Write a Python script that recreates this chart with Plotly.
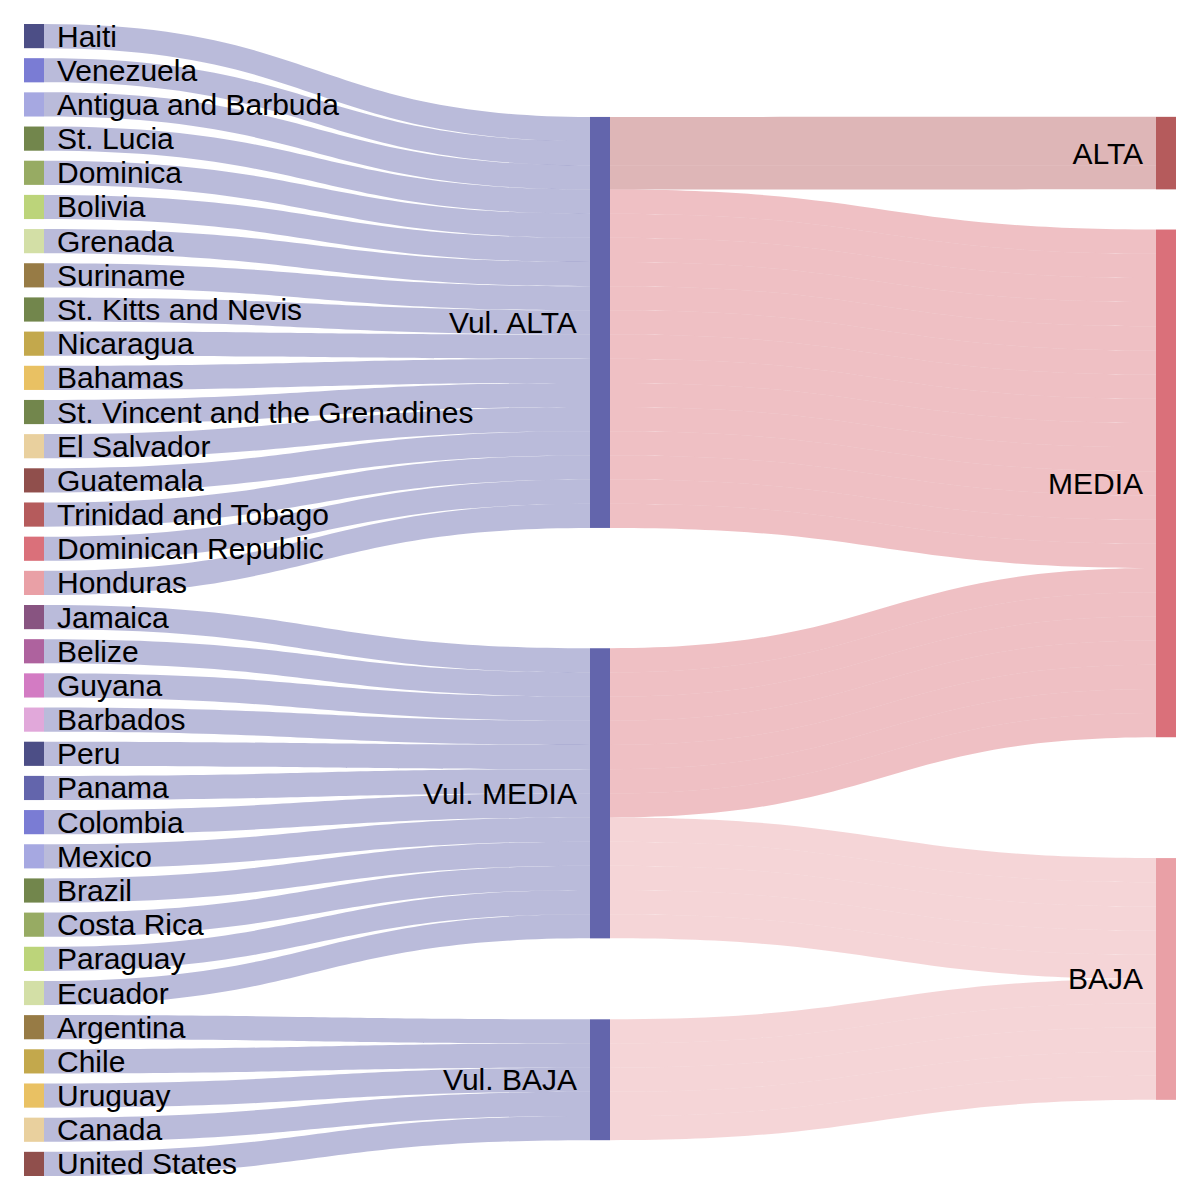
import plotly.graph_objects as go

# ---------------- data ----------------
countries = ["Haiti", "Venezuela", "Antigua and Barbuda", "St. Lucia", "Dominica", "Bolivia",
             "Grenada", "Suriname", "St. Kitts and Nevis", "Nicaragua", "Bahamas",
             "St. Vincent and the Grenadines", "El Salvador", "Guatemala", "Trinidad and Tobago",
             "Dominican Republic", "Honduras",
             "Jamaica", "Belize", "Guyana", "Barbados", "Peru", "Panama", "Colombia", "Mexico",
             "Brazil", "Costa Rica", "Paraguay", "Ecuador",
             "Argentina", "Chile", "Uruguay", "Canada", "United States"]
vulnerability = (["Vul. ALTA"] * 17) + (["Vul. MEDIA"] * 12) + (["Vul. BAJA"] * 5)
risk = (["ALTA"] * 3 + ["MEDIA"] * 14 +
        ["MEDIA"] * 7 + ["BAJA"] * 5 +
        ["BAJA"] * 5)
flow_value = [1] * len(countries)
vul_nodes = ["Vul. ALTA", "Vul. MEDIA", "Vul. BAJA"]
risk_nodes = ["ALTA", "MEDIA", "BAJA"]

# ---------------- styles ----------------
country_colors = ["#393b79", "#6b6ecf", "#9c9ede", "#637939", "#8ca252", "#b5cf6b",
                  "#cedb9c", "#8c6d31", "#637939", "#bd9e39", "#e7ba52",
                  "#637939", "#e7cb94", "#843c39", "#ad494a", "#d6616b", "#e7969c",
                  "#7b4173", "#a55194", "#ce6dbd", "#de9ed6", "#393b79", "#5254a3",
                  "#6b6ecf", "#9c9ede", "#637939", "#8ca252", "#b5cf6b", "#cedb9c",
                  "#8c6d31", "#bd9e39", "#e7ba52", "#e7cb94", "#843c39"]
vul_color = "#5254a3"
risk_colors = ["#ad494a", "#d6616b", "#e7969c"]

FIG_W, FIG_H = 1200, 1200
MARGIN = dict(l=16, r=32, t=16, b=32)
PAD, THICK = 10, 20
LABEL_GAP = 11
FONT = dict(family="Liberation Sans, Arial", size=30, color="black")


def rgba(h, a):
    h = h.lstrip("#")
    return f"rgba({int(h[0:2],16)},{int(h[2:4],16)},{int(h[4:6],16)},{a})"


labels = countries + vul_nodes + risk_nodes
idx = {l: i for i, l in enumerate(labels)}
node_colors = ([rgba(c, 0.9) for c in country_colors] + [rgba(vul_color, 0.9)] * 3 +
               [rgba(c, 0.9) for c in risk_colors])

links = []  # (source, target, value)
lcol = []
for c, v, w in zip(countries, vulnerability, flow_value):
    links.append((idx[c], idx[v], w)); lcol.append(rgba(vul_color, 0.4))
for v, r, w in zip(vulnerability, risk, flow_value):
    links.append((idx[v], idx[r], w)); lcol.append(rgba(risk_colors[risk_nodes.index(r)], 0.4))

# ---------------- node layout (link-centred relaxation) ----------------
W = FIG_W - MARGIN["l"] - MARGIN["r"]
H = FIG_H - MARGIN["t"] - MARGIN["b"]
columns = [[idx[c] for c in countries], [idx[v] for v in vul_nodes], [idx[r] for r in risk_nodes]]
n_nodes = len(labels)
outs = {n: [i for i, l in enumerate(links) if l[0] == n] for n in range(n_nodes)}
ins = {n: [i for i, l in enumerate(links) if l[1] == n] for n in range(n_nodes)}
value = {n: max(sum(links[i][2] for i in outs[n]), sum(links[i][2] for i in ins[n]))
         for n in range(n_nodes)}
ky = min((H - (len(c) - 1) * PAD) / sum(value[n] for n in c) for c in columns)
hgt = {n: value[n] * ky for n in range(n_nodes)}
y0 = {}
for col in columns:
    y = 0
    for n in col:
        y0[n] = y
        y += hgt[n] + PAD


def link_positions():
    sy, ty = {}, {}
    for n in range(n_nodes):
        y = y0[n]
        for i in sorted(outs[n], key=lambda i: (y0[links[i][1]], i)):
            w = links[i][2] * ky
            sy[i] = y + w / 2
            y += w
        y = y0[n]
        for i in sorted(ins[n], key=lambda i: (y0[links[i][0]], i)):
            w = links[i][2] * ky
            ty[i] = y + w / 2
            y += w
    return sy, ty


def resolve(col):
    order = sorted(col, key=lambda n: y0[n])
    y = 0
    for n in order:
        d = y - y0[n]
        if d > 0:
            y0[n] += d
        y = y0[n] + hgt[n] + PAD
    d = y - PAD - H
    if d > 0:
        y0[order[-1]] -= d
        y = y0[order[-1]]
        for n in reversed(order[:-1]):
            d = y0[n] + hgt[n] + PAD - y
            if d > 0:
                y0[n] -= d
            y = y0[n]


alpha = 1.0
for _ in range(50):
    alpha *= 0.99
    for col in reversed(columns):
        sy, ty = link_positions()
        for n in col:
            if outs[n]:
                tot = sum(links[i][2] for i in outs[n])
                tc = sum(ty[i] * links[i][2] for i in outs[n]) / tot
                y0[n] += (tc - (y0[n] + hgt[n] / 2)) * alpha
    for col in columns:
        resolve(col)
    for col in columns:
        sy, ty = link_positions()
        for n in col:
            if ins[n]:
                tot = sum(links[i][2] for i in ins[n])
                sc = sum(sy[i] * links[i][2] for i in ins[n]) / tot
                y0[n] += (sc - (y0[n] + hgt[n] / 2)) * alpha
    for col in columns:
        resolve(col)

node_x, node_y = [0.0] * n_nodes, [0.0] * n_nodes
col_x0 = []
for k, col in enumerate(columns):
    x0 = k * (W - THICK) / (len(columns) - 1)
    col_x0.append(x0)
    for n in col:
        node_x[n] = (x0 + THICK / 2) / W
        node_y[n] = (y0[n] + hgt[n] / 2) / H

# middle-column labels are drawn to the left of their nodes
node_text = [("" if l in vul_nodes else l) for l in labels]
annotations = []
for v in vul_nodes:
    n = idx[v]
    annotations.append(dict(text=v, xref="paper", yref="paper",
                            x=col_x0[1] / W, y=1 - node_y[n],
                            xanchor="right", yanchor="middle", xshift=-LABEL_GAP,
                            showarrow=False, font=FONT))

fig = go.Figure(go.Sankey(
    arrangement="fixed",
    node=dict(label=node_text, color=node_colors, pad=PAD, thickness=THICK,
              x=node_x, y=node_y, customdata=labels, hovertemplate="%{customdata}<extra></extra>",
              line=dict(width=20, color="rgba(0,0,0,0)")),
    link=dict(source=[l[0] for l in links], target=[l[1] for l in links],
              value=[l[2] for l in links], color=lcol),
    textfont=dict(FONT, shadow="none"),
))
fig.update_layout(width=FIG_W, height=FIG_H, margin=MARGIN, annotations=annotations,
                  paper_bgcolor="white", font=dict(family="Liberation Sans, Arial"))
fig.write_html("out.html")
